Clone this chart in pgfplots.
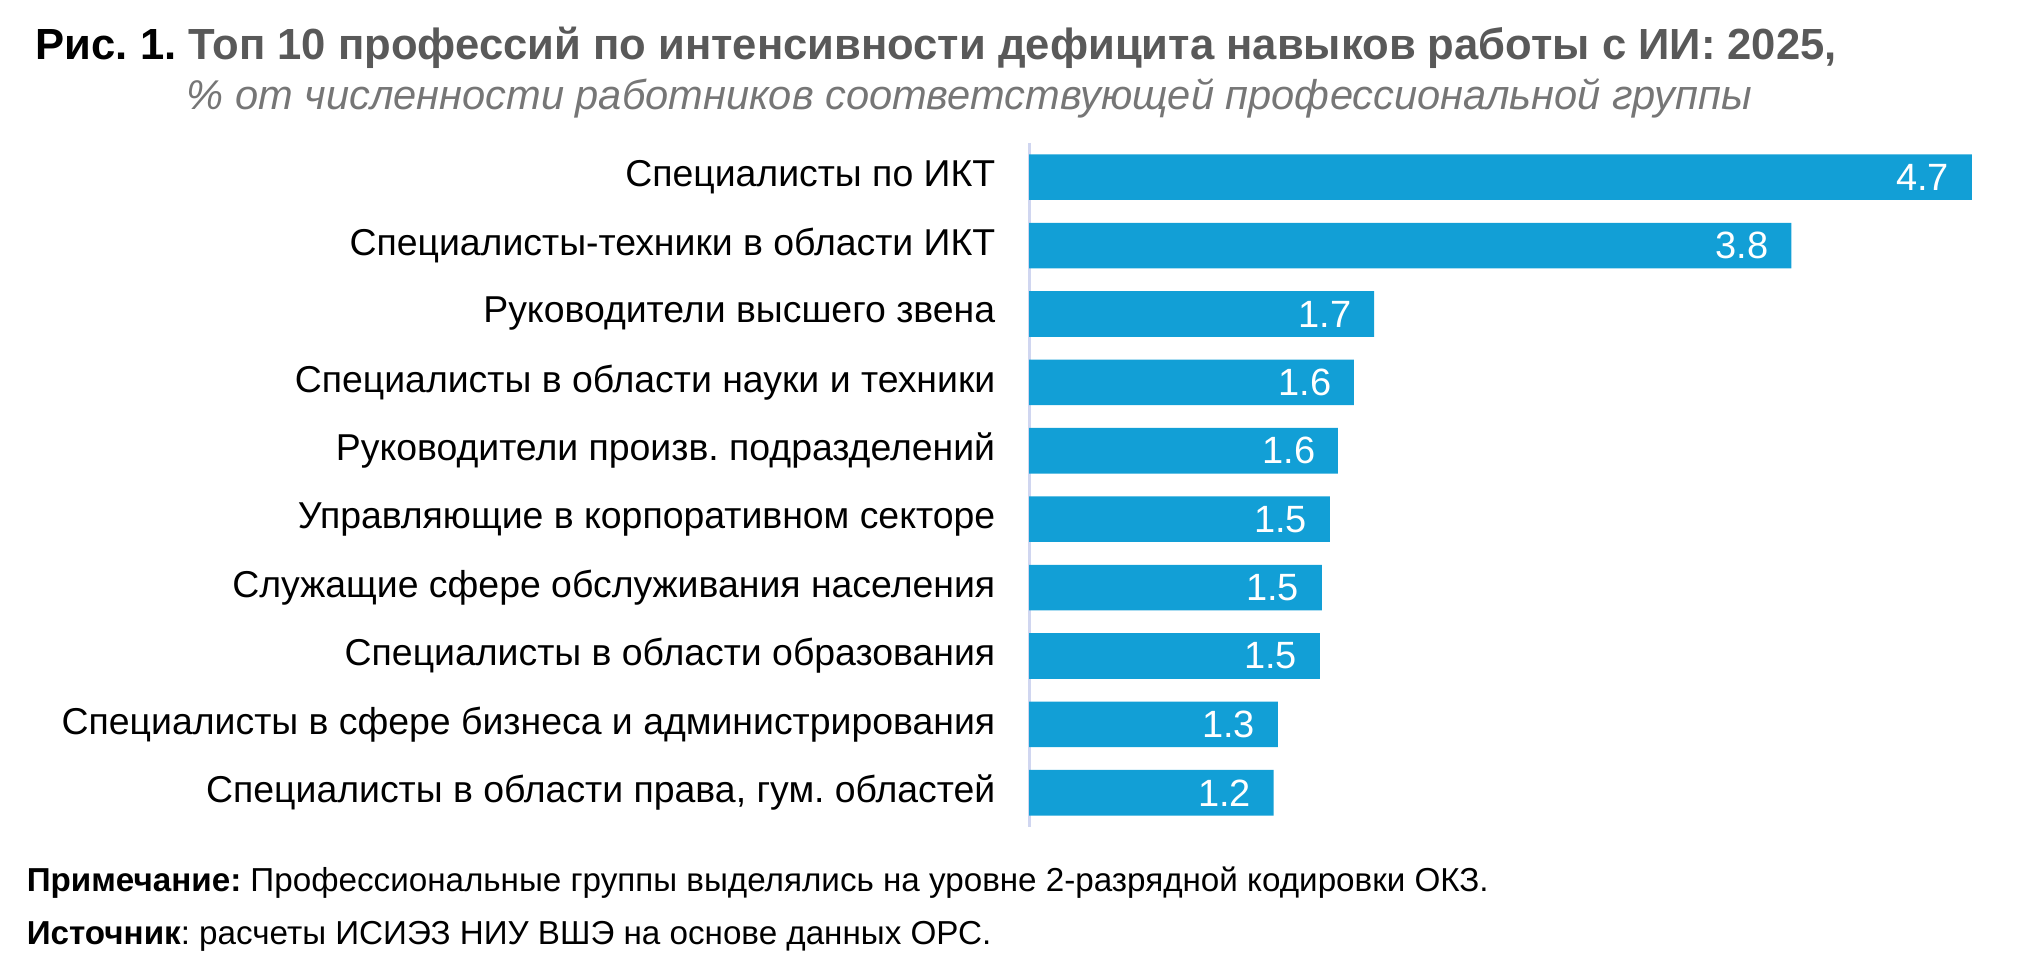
\documentclass[border=0pt]{standalone}
\usepackage{pgfplots}
\pgfplotsset{compat=1.18}
\usepackage{fontspec}
\setmainfont{Liberation Sans}
\frenchspacing
\definecolor{barc}{RGB}{18,159,214}
\definecolor{titgray}{RGB}{89,89,89}
\definecolor{subgray}{RGB}{118,118,118}
\definecolor{axcol}{RGB}{208,214,240}
\begin{document}
\begin{tikzpicture}[x=0.25pt,y=0.25pt]
\useasboundingbox (0,0) rectangle (2041,970);
\node[anchor=west, inner sep=0pt, font=\fontsize{10.9}{13}\selectfont\bfseries] at (35,922) {Рис. 1. \textcolor{titgray}{Топ 10 профессий по интенсивности дефицита навыков работы с ИИ: 2025,}};
\node[anchor=west, inner sep=0pt, font=\fontsize{10.4}{12}\selectfont\itshape, text=subgray] at (186,872) {\% от численности работников соответствующей профессиональной группы};
\node[anchor=west, inner sep=0pt, font=\fontsize{8.3}{10}\selectfont] at (26,87) {\textbf{Примечание:} Профессиональные группы выделялись на уровне 2-разрядной кодировки ОКЗ.};
\node[anchor=west, inner sep=0pt, font=\fontsize{8.3}{10}\selectfont] at (26,34) {\textbf{Источник}: расчеты ИСИЭЗ НИУ ВШЭ на основе данных ОРС.};
\begin{axis}[
  at={(257.25pt,35.75pt)}, anchor=south west,
  scale only axis, width=250.75pt, height=171pt,
  xmin=0, xmax=5, ymin=-0.5, ymax=9.5, y dir=reverse,
  xbar, bar width=0.667,
  hide x axis, axis y line*=left,
  y axis line style={draw=axcol, line width=0.75pt},
  ytick={0,...,9}, major tick length=0pt,
  yticklabels={Специалисты по ИКТ, Специалисты-техники в области ИКТ, Руководители высшего звена, Специалисты в области науки и техники, Руководители произв. подразделений, Управляющие в корпоративном секторе, Служащие сфере обслуживания населения, Специалисты в области образования, Специалисты в сфере бизнеса и администрирования, {Специалисты в области права, гум. областей}},
  yticklabel style={anchor=east, inner sep=0pt, xshift=-8.25pt, font=\fontsize{9.35}{11}\selectfont},
  nodes near coords, point meta=explicit symbolic,
  nodes near coords style={anchor=east, text=white, inner sep=0pt, xshift=-5.5pt, font=\fontsize{9.5}{11}\selectfont},
]
\addplot[fill=barc, draw=none] table[meta=lab] {
x y lab
4.70 0 4.7
3.80 1 3.8
1.72 2 1.7
1.62 3 1.6
1.54 4 1.6
1.50 5 1.5
1.46 6 1.5
1.45 7 1.5
1.24 8 1.3
1.22 9 1.2
};
\end{axis}
\end{tikzpicture}
\end{document}
